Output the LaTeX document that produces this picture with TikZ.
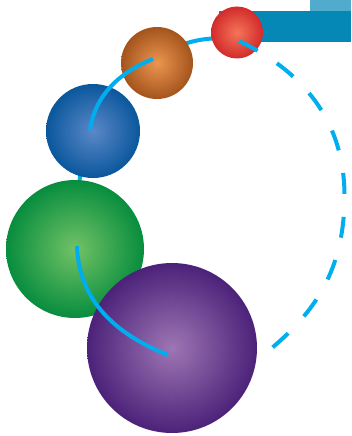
\documentclass[tikz,border=0pt]{standalone}
\definecolor{linkc}{HTML}{00AEEF}
\definecolor{darkbar}{HTML}{0588B5}
\definecolor{lightbar}{HTML}{50ABCC}
\definecolor{redin}{HTML}{F47558}
\definecolor{redout}{HTML}{D22B2B}
\definecolor{orain}{HTML}{EB9550}
\definecolor{oraout}{HTML}{A4541C}
\definecolor{bluin}{HTML}{5B88C8}
\definecolor{bluout}{HTML}{0A579C}
\definecolor{grein}{HTML}{72C266}
\definecolor{greout}{HTML}{078D3E}
\definecolor{purin}{HTML}{9E76B4}
\definecolor{purout}{HTML}{4B2279}
\begin{document}
\begin{tikzpicture}[x=1pt,y=-1pt,
  ball/.style={circle, inner sep=0pt, outer sep=0pt, draw=none},
  link/.style={line width=4pt, draw=linkc},
  dashlink/.style={link, dash pattern=on 21pt off 23pt}]
\useasboundingbox (0,0) rectangle (351,436);
\fill[lightbar] (310,0) rectangle (351,11);
\fill[darkbar] (219,11) rectangle (351,42);
% anchors
\coordinate (aR) at (239,41);
\coordinate (aO) at (153,59);
\coordinate (aB) at (90,130);
\coordinate (aG) at (77,246);
\coordinate (aP) at (168,355);
\coordinate (aEnd) at (267,352);
% links behind the balls
\draw[link] (aG) .. controls (76,200) and (80,160) .. (aB);
\draw[link] (aO) .. controls (175,45) and (205,33) .. (aR);
% balls
\node[ball, minimum size=52pt, inner color=redin, outer color=redout] (red) at (237,32.5) {};
\node[ball, minimum size=72pt, inner color=orain, outer color=oraout] (orange) at (157,63) {};
\node[ball, minimum size=94pt, inner color=bluin, outer color=bluout] (blue) at (93,131) {};
\node[ball, minimum size=138pt, inner color=grein, outer color=greout] (green) at (75,249) {};
\node[ball, minimum size=170pt, inner color=purin, outer color=purout] (purple) at (172,348) {};
% links on top
\draw[link] (aB) .. controls (95,95) and (120,72) .. (aO);
\draw[link] (aG) .. controls (79,312) and (133,341) .. (aP);
\draw[dashlink] (aR) .. controls (302,71) and (344.5,120) .. (344.5,196)
  .. controls (344.5,270) and (315,313) .. (aEnd);
\end{tikzpicture}
\end{document}
